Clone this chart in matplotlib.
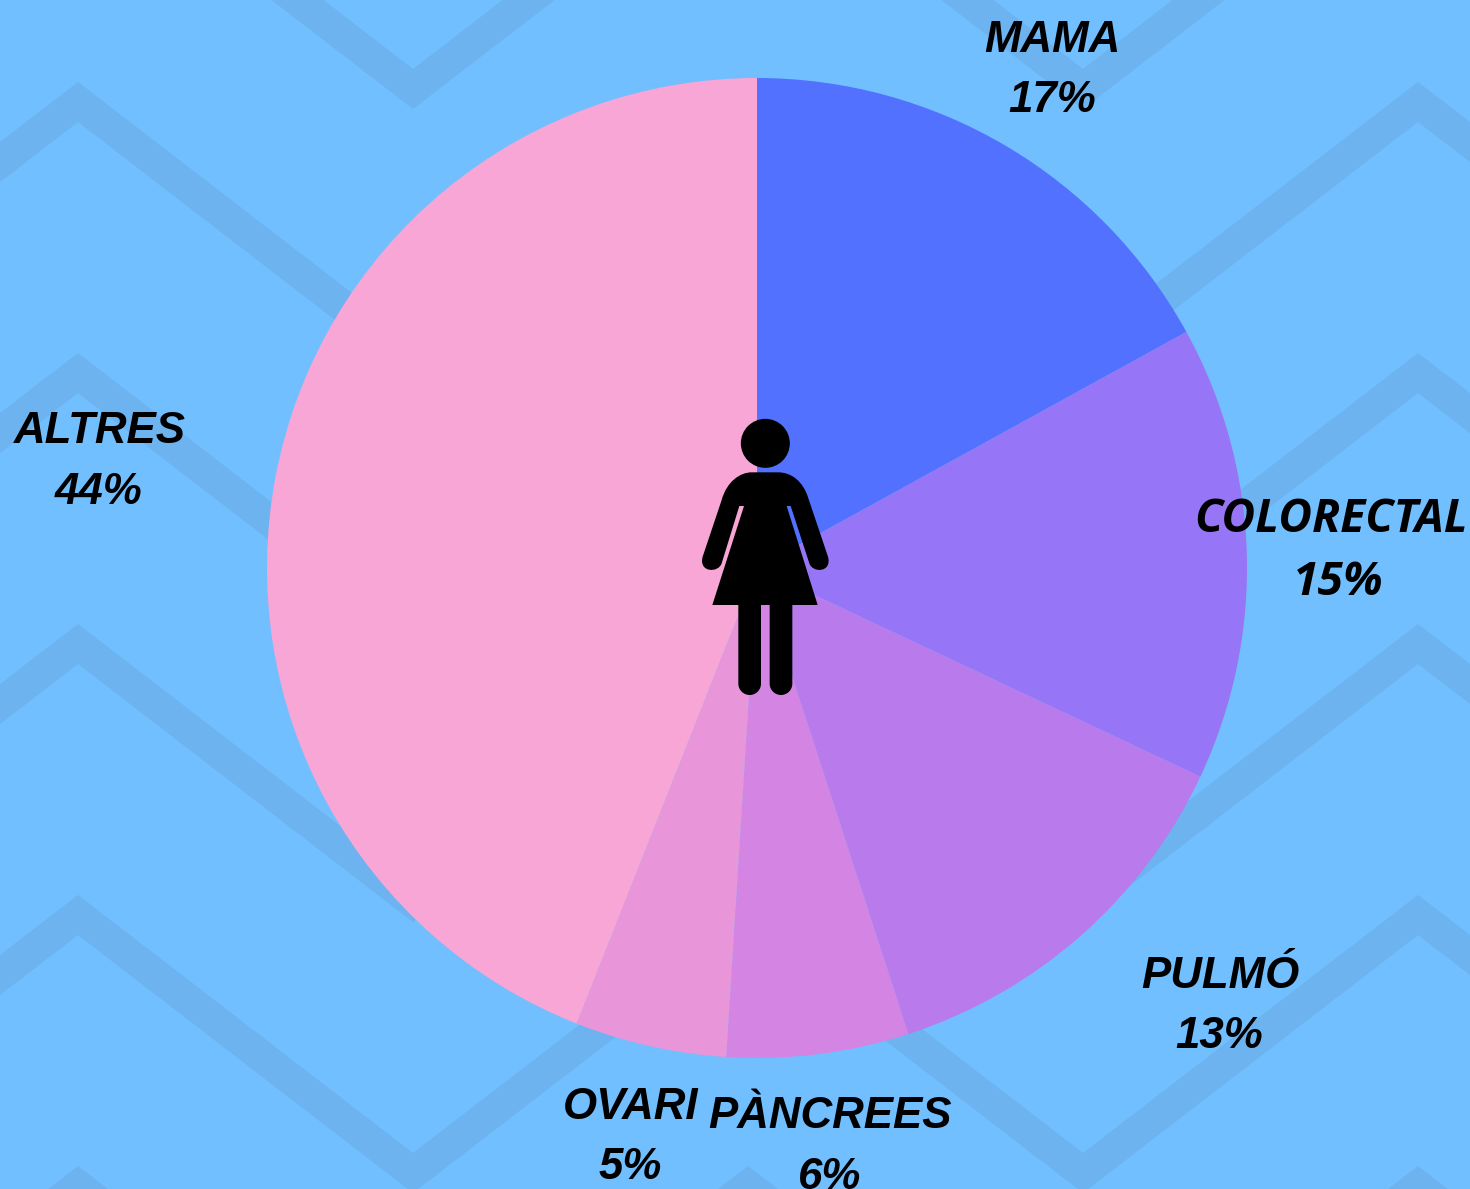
import matplotlib
matplotlib.use('Agg')
import matplotlib.pyplot as plt
from matplotlib.patches import Circle, PathPatch, Polygon
from matplotlib.path import Path

# dades del grafic
labels = ['MAMA', 'COLORECTAL', 'PULMÓ', 'PÀNCREES', 'OVARI', 'ALTRES']
percents = [17, 15, 13, 6, 5, 44]
colors = ['#5271ff', '#9775f7', '#b97aeb', '#d484e2', '#e895d9', '#f8a6d6']

# posicio de les etiquetes en pixels (x, linia base nom, linia base %)
label_x = [1052, 1331, 1220, 830, 631, 100]
pct_x = [1052, 1338, 1219, 830, 630, 99]
name_y = [52, 532, 988, 1128, 1119, 443]
pct_y = [112, 595, 1048, 1189, 1179, 504]

W, H = 1470, 1189
BG = '#72bfff'
BAND = '#6cb3ef'


def fy(y):
    return H - y


fig = plt.figure(figsize=(W / 100, H / 100), dpi=100, facecolor=BG)
ax = fig.add_axes([0, 0, 1, 1])
ax.set_facecolor(BG)

# fons de ziga-zagues
xs = [78 + 335 * i for i in range(-1, 6)]
for k in range(-2, 6):
    ys = []
    for i in range(-1, 6):
        ys.append(102 + 271 * k if i % 2 == 0 else 360 + 271 * k)
    top = [(x, fy(y - 20)) for x, y in zip(xs, ys)]
    bot = [(x, fy(y + 20)) for x, y in zip(xs, ys)]
    ax.add_patch(Polygon(top + bot[::-1], closed=True, fc=BAND, ec='none', zorder=1))

# pastis
wedges, _ = ax.pie(percents, colors=colors, startangle=90, counterclock=False,
                   center=(757, fy(568)), radius=490, frame=False)
for w in wedges:
    w.set_zorder(2)
ax.set_xlim(0, W)
ax.set_ylim(0, H)
ax.set_aspect('equal')
ax.axis('off')


# figura de dona, coordenades del retall 3x
def ic(x, y):
    return (680 + x / 3, fy(400 + y / 3))


ax.add_patch(Circle(ic(256, 130), 24.5, fc='black', ec='none', zorder=3))
verts = [(97, 615), (192, 318), (178, 318), (125, 490),
         (115, 520), (55, 518), (68, 470),
         (125, 300), (140, 245), (180, 217), (215, 217),
         (295, 217), (335, 217), (370, 245), (385, 295),
         (444, 470), (457, 518), (398, 520), (388, 490),
         (332, 318), (320, 318), (413, 615), (97, 615)]
codes = [Path.MOVETO, Path.LINETO, Path.LINETO, Path.LINETO,
         Path.CURVE4, Path.CURVE4, Path.CURVE4,
         Path.LINETO, Path.CURVE4, Path.CURVE4, Path.CURVE4,
         Path.LINETO, Path.CURVE4, Path.CURVE4, Path.CURVE4,
         Path.LINETO, Path.CURVE4, Path.CURVE4, Path.CURVE4,
         Path.LINETO, Path.LINETO, Path.LINETO, Path.CLOSEPOLY]
ax.add_patch(PathPatch(Path([ic(*v) for v in verts], codes), fc='black', ec='none', zorder=3))
for x0, x1 in [(175, 243), (269, 337)]:
    r = (x1 - x0) / 2
    leg = [(x0, 610), (x1, 610), (x1, 885 - r), (x1, 885 - r * 0.45), (x0 + r * 1.55, 885), (x0 + r, 885),
           (x0 + r * 0.45, 885), (x0, 885 - r * 0.45), (x0, 885 - r), (x0, 610)]
    leg_codes = [Path.MOVETO, Path.LINETO, Path.LINETO, Path.CURVE4, Path.CURVE4, Path.CURVE4,
                 Path.CURVE4, Path.CURVE4, Path.CURVE4, Path.CLOSEPOLY]
    ax.add_patch(PathPatch(Path([ic(*v) for v in leg], leg_codes), fc='black', ec='none', zorder=3))

# etiquetes
for i, name in enumerate(labels):
    family = 'Open Sans' if name == 'COLORECTAL' else 'Liberation Sans'
    size = 33.3 if name == 'COLORECTAL' else 31.6
    ax.text(label_x[i], fy(name_y[i]), name, family=family, style='italic', weight='bold',
            fontsize=size, ha='center', va='baseline', color='black', zorder=4)
    ax.text(pct_x[i], fy(pct_y[i]), f'{percents[i]}%', family=family, style='italic', weight='bold',
            fontsize=size, ha='center', va='baseline', color='black', zorder=4)

fig.savefig('out.png', dpi=100, facecolor=BG)
